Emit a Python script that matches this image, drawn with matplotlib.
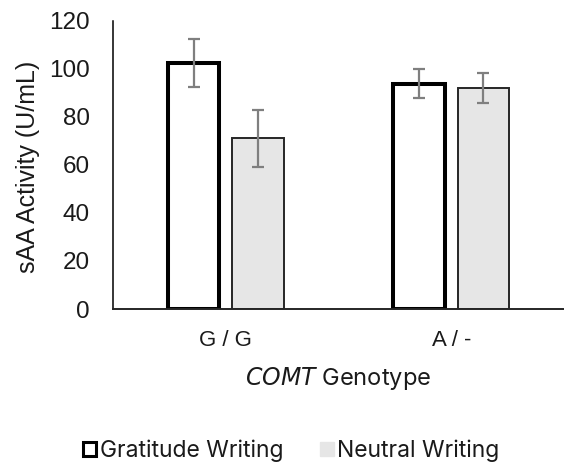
import matplotlib
matplotlib.use("Agg")
import matplotlib.pyplot as plt
from matplotlib.patches import Patch
import numpy as np

# sAA activity by COMT genotype, mean +/- error
genotypes = ["G / G", "A / -"]
gratitude = [102.3, 93.8]
gratitude_err = [9.9, 5.9]
neutral = [71.0, 92.1]
neutral_err = [11.9, 6.2]
series_names = ["Gratitude Writing", "Neutral Writing"]

tick_font = "Liberation Sans"
title_font = "Inter"

fig = plt.figure(figsize=(5.64, 4.63), dpi=100, facecolor="white")
ax = fig.add_axes([113 / 564, 1 - 309 / 463, 1 - 113 / 564, (309 - 20.7) / 463])

x = np.arange(len(genotypes))
w = 0.23
off = 0.143
err_kw = dict(ecolor="#7f7f7f", elinewidth=1.6, capsize=4.3, capthick=1.6)

ax.bar(x - off, gratitude, w, yerr=gratitude_err, color="white",
       edgecolor="black", linewidth=2.9, error_kw=err_kw, zorder=2)
ax.bar(x + off, neutral, w, yerr=neutral_err, color="#e6e6e6",
       edgecolor="#262626", linewidth=1.4, error_kw=err_kw, zorder=2)

ax.set_xlim(-0.5, 1.5)
ax.set_ylim(0, 120)
ax.set_yticks(range(0, 121, 20))
ax.set_xticks(x)
ax.set_xticklabels(genotypes)

for s in ["top", "right"]:
    ax.spines[s].set_visible(False)
ax.spines["left"].set_linewidth(1.1)
ax.spines["bottom"].set_linewidth(1.4)
ax.spines["bottom"].set_color("#262626")
ax.spines["bottom"].set_zorder(3)

ax.tick_params(axis="y", length=0, pad=16.5, labelsize=17.5)
ax.tick_params(axis="x", length=0, pad=15, labelsize=16)
for lbl in ax.get_xticklabels() + ax.get_yticklabels():
    lbl.set_fontfamily(tick_font)
    lbl.set_color("#1a1a1a")

fig.text(28 / 564, 1 - 167 / 463, "sAA Activity (U/mL)", rotation=90,
         ha="center", va="center", fontsize=18, family=tick_font, color="#1a1a1a")

# axis title with italic gene name
fig.text(338 / 564, 1 - 378.5 / 463, r"$\it{COMT}$ Genotype", ha="center",
         va="center", fontsize=17, family=title_font, color="#1a1a1a")

handles = [Patch(facecolor="white", edgecolor="black", linewidth=2.2),
           Patch(facecolor="#e6e6e6", edgecolor="#e6e6e6")]
leg = fig.legend(handles, series_names, loc="center", ncol=2, frameon=False,
                 bbox_to_anchor=(291 / 564, 1 - 451 / 463),
                 handlelength=0.6, handleheight=0.6, handletextpad=0.15,
                 columnspacing=1.6, prop=dict(family=title_font, size=16.5))
for t in leg.get_texts():
    t.set_color("#1a1a1a")

fig.savefig("out.png", dpi=100, facecolor="white")
